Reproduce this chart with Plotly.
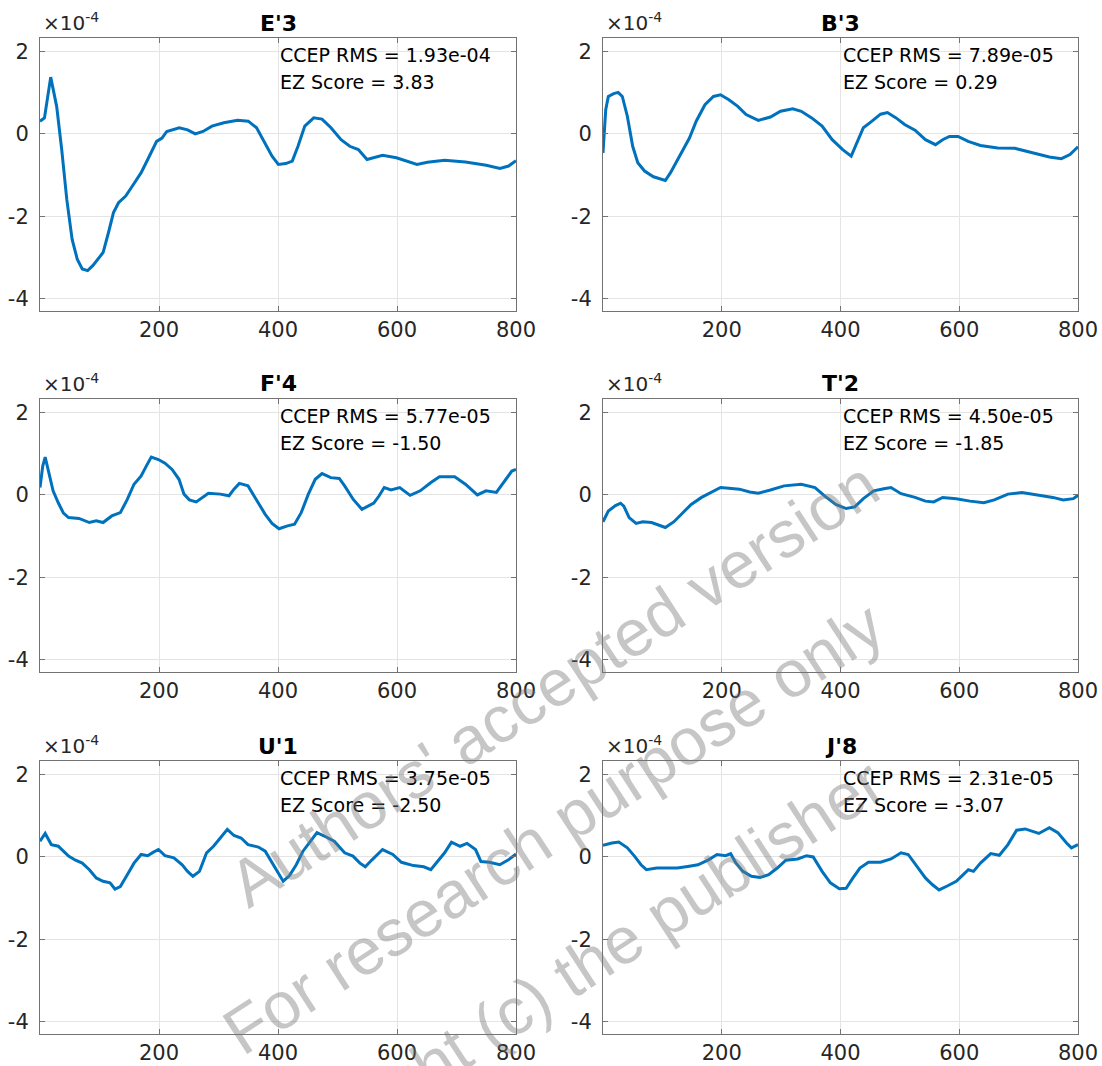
import plotly.graph_objects as go

# ---- data (time in ms, amplitude in units of 1e-4) ----
t_e3 = [0, 7.5, 18, 28, 36.5, 45, 54, 62.6, 71, 80, 88.7, 97, 106, 115, 123.5, 132, 144, 155, 170, 181,
        196, 205, 213, 234, 248, 261, 274, 289, 309, 332, 350, 364, 378.5, 390, 400.6, 413, 424, 433.6,
        445, 460, 474, 489, 506, 520.6, 535, 549.6, 575.7, 599, 633.6, 651, 680, 715, 750, 773, 787.5, 800]
v_e3 = [0.31, 0.39, 1.38, 0.67, -0.38, -1.59, -2.56, -3.04, -3.28, -3.32, -3.2, -3.04, -2.88, -2.40, -1.91,
        -1.67, -1.51, -1.27, -0.94, -0.62, -0.18, -0.10, 0.06, 0.15, 0.10, 0.0, 0.06, 0.19, 0.27, 0.33, 0.31,
        0.15, -0.22, -0.54, -0.74, -0.72, -0.66, -0.30, 0.19, 0.39, 0.36, 0.15, -0.14, -0.30, -0.38, -0.62,
        -0.52, -0.58, -0.74, -0.69, -0.64, -0.68, -0.76, -0.84, -0.78, -0.65]

t_b3 = [0, 4.6, 9, 18, 25.5, 32.5, 41, 50, 58.6, 70, 85, 96, 105, 113.7, 128, 145.6, 157, 171.7, 186, 198,
        212, 227, 241, 261.6, 282, 299, 319.6, 334, 351.5, 369, 386, 403.7, 418, 427, 438.5, 453, 467.5,
        479, 493.6, 508, 525.5, 543, 560, 572, 583.5, 598, 615, 635.7, 664.7, 693.7, 722.7, 751.7, 772,
        786.5, 800]
v_b3 = [-0.46, 0.59, 0.91, 0.98, 1.01, 0.91, 0.43, -0.30, -0.70, -0.90, -1.04, -1.09, -1.13, -0.94, -0.58,
        -0.10, 0.31, 0.71, 0.91, 0.95, 0.83, 0.67, 0.47, 0.33, 0.41, 0.55, 0.61, 0.55, 0.39, 0.19, -0.14,
        -0.38, -0.54, -0.22, 0.15, 0.31, 0.48, 0.52, 0.39, 0.23, 0.09, -0.14, -0.26, -0.14, -0.06, -0.06,
        -0.18, -0.28, -0.34, -0.35, -0.46, -0.56, -0.60, -0.50, -0.31]

t_f4 = [0, 4.6, 8.7, 14.5, 22, 30.7, 39.4, 48, 65.5, 83, 94.5, 106, 120.6, 135, 146.7, 158, 170, 178.6, 187,
        199, 210, 222, 233.6, 242, 251, 262.6, 274, 283, 303, 317.7, 326, 335, 349.6, 364, 378.5, 390,
        401.7, 416, 427.8, 439, 451, 462.6, 474, 488.7, 503, 512, 526.5, 541, 561, 570, 578.5, 590, 604.6,
        622, 639, 657, 671.3, 697, 715, 735, 749.6, 767, 781, 793, 800]
v_f4 = [0.18, 0.70, 0.92, 0.54, 0.10, -0.19, -0.44, -0.55, -0.57, -0.67, -0.63, -0.67, -0.51, -0.43, -0.11,
        0.26, 0.46, 0.70, 0.92, 0.86, 0.77, 0.62, 0.38, 0.02, -0.12, -0.17, -0.06, 0.04, 0.02, -0.02, 0.14,
        0.28, 0.22, -0.11, -0.47, -0.69, -0.82, -0.75, -0.71, -0.43, 0.02, 0.38, 0.52, 0.42, 0.40, 0.22,
        -0.11, -0.35, -0.20, -0.02, 0.18, 0.12, 0.18, -0.01, 0.10, 0.30, 0.44, 0.44, 0.26, 0.0, 0.10, 0.06,
        0.34, 0.58, 0.62]

t_t2 = [0, 9, 21, 29.6, 35, 44, 55.7, 67, 81.8, 96, 105, 119.5, 134, 148.5, 166, 183, 198, 212, 229.7, 247,
        261.6, 282, 305, 334, 357, 374.7, 392, 409.5, 424, 438.5, 456, 473, 485, 502, 525.5, 543, 557, 572,
        595, 618, 641.5, 659, 682, 705.6, 723, 740, 757.6, 775, 792, 800]
v_t2 = [-0.65, -0.39, -0.26, -0.20, -0.27, -0.55, -0.69, -0.65, -0.67, -0.75, -0.79, -0.65, -0.44, -0.23,
        -0.06, 0.06, 0.18, 0.16, 0.14, 0.07, 0.04, 0.12, 0.22, 0.26, 0.18, -0.04, -0.23, -0.33, -0.29, -0.09,
        0.10, 0.15, 0.18, 0.03, -0.06, -0.15, -0.17, -0.06, -0.09, -0.15, -0.19, -0.12, 0.02, 0.06, 0.02,
        -0.02, -0.06, -0.12, -0.09, -0.01]

t_u1 = [0, 8.7, 19, 30.7, 39.4, 48, 59.7, 71, 83, 94.5, 106, 117.7, 126, 135, 146.7, 158, 170, 181, 190,
        199, 210, 225, 239, 248, 257, 268, 280, 291.6, 303, 314.8, 326, 338, 349.6, 367, 378.5, 390, 401.7,
        408.7, 419, 430.7, 442, 456.8, 465.5, 480, 494.5, 512, 526, 537.7, 546.7, 558, 575.7, 593, 607.5,
        627.8, 645, 656.8, 668.4, 680, 691.6, 706, 717.7, 732, 741, 755.4, 772.8, 787.3, 800]
v_u1 = [0.38, 0.57, 0.30, 0.26, 0.14, 0.02, -0.08, -0.15, -0.31, -0.51, -0.59, -0.63, -0.78, -0.72, -0.43,
        -0.15, 0.06, 0.03, 0.11, 0.18, 0.03, -0.02, -0.19, -0.35, -0.47, -0.35, 0.10, 0.26, 0.46, 0.67,
        0.52, 0.46, 0.30, 0.24, 0.14, -0.15, -0.43, -0.59, -0.46, -0.19, 0.14, 0.42, 0.59, 0.49, 0.38,
        0.10, 0.02, -0.15, -0.24, -0.07, 0.18, 0.06, -0.13, -0.21, -0.24, -0.31, -0.11, 0.10, 0.36, 0.26,
        0.33, 0.18, -0.11, -0.13, -0.19, -0.07, 0.07]

t_j8 = [0, 15, 26.7, 41, 53, 64, 73, 90.5, 108, 125, 142.7, 160, 177.6, 192, 206.5, 215, 224, 235.5, 250,
        264.5, 279, 293.5, 308, 328, 342.8, 354, 369, 383, 398, 409.5, 421, 432.7, 447, 467.5, 485, 502,
        514, 528.4, 543, 554.5, 566, 580.6, 595, 606.7, 615.4, 624, 635.7, 653, 667.6, 682, 696.6, 711,
        722.7, 734, 751.7, 766, 780.7, 789, 800]
v_j8 = [0.28, 0.34, 0.36, 0.22, 0.02, -0.19, -0.31, -0.27, -0.27, -0.27, -0.23, -0.19, -0.07, 0.06, 0.03,
        0.08, -0.15, -0.35, -0.47, -0.50, -0.43, -0.27, -0.08, -0.05, 0.03, 0.0, -0.35, -0.63, -0.77, -0.76,
        -0.51, -0.27, -0.13, -0.13, -0.05, 0.10, 0.06, -0.23, -0.51, -0.67, -0.80, -0.70, -0.59, -0.43,
        -0.31, -0.35, -0.15, 0.08, 0.04, 0.30, 0.65, 0.68, 0.63, 0.57, 0.71, 0.59, 0.34, 0.22, 0.30]

titles = ["E'3", "B'3", "F'4", "T'2", "U'1", "J'8"]
rms_text = ["1.93e-04", "7.89e-05", "5.77e-05", "4.50e-05", "3.75e-05", "2.31e-05"]
ez_text = ["3.83", "0.29", "-1.50", "-1.85", "-2.50", "-3.07"]
series_t = [t_e3, t_b3, t_f4, t_t2, t_u1, t_j8]
series_v = [v_e3, v_b3, v_f4, v_t2, v_u1, v_j8]

x_ticks = [200, 400, 600, 800]
y_ticks = [-4, -2, 0, 2]

# ---- layout geometry (pixels) ----
W, H = 1102, 1066
WX = 1082  # horizontal reference width used for paper fractions (renderer compresses ~1.8%)
col_px = [(40, 516), (603, 1078)]
row_px = [(38, 311), (399, 672), (761, 1034)]

FONT = "DejaVu Sans"
LINE_COLOR = "#0072BD"
AX_COLOR = "#737373"
TXT_COLOR = "#262626"
GRID = "#e4e4e4"

fig = go.Figure()
annotations = []
layout_axes = {}

for i in range(6):
    r, c = divmod(i, 2)
    x0, x1 = col_px[c]
    y0, y1 = row_px[r]
    n = i + 1
    xa = "x" if n == 1 else f"x{n}"
    ya = "y" if n == 1 else f"y{n}"
    xkey = "xaxis" if n == 1 else f"xaxis{n}"
    ykey = "yaxis" if n == 1 else f"yaxis{n}"

    fig.add_trace(go.Scatter(x=series_t[i], y=series_v[i], mode="lines",
                             line=dict(color=LINE_COLOR, width=3),
                             xaxis=xa, yaxis=ya, showlegend=False, hoverinfo="skip"))

    layout_axes[xkey] = dict(domain=[x0 / WX, x1 / WX], anchor=ya, range=[0, 800],
                             tickvals=x_ticks, ticktext=[str(v) for v in x_ticks],
                             showgrid=True, gridcolor=GRID, gridwidth=1, zeroline=False,
                             showline=True, linecolor=AX_COLOR, linewidth=1, mirror="ticks",
                             ticks="inside", ticklen=5, tickcolor=AX_COLOR,
                             tickfont=dict(family=FONT, size=21, color=TXT_COLOR))
    layout_axes[ykey] = dict(domain=[1 - y1 / H, 1 - y0 / H], anchor=xa, range=[-4.30, 2.33],
                             tickvals=y_ticks, ticktext=[str(v) for v in y_ticks],
                             showgrid=True, gridcolor=GRID, gridwidth=1, zeroline=False,
                             showline=True, linecolor=AX_COLOR, linewidth=1, mirror="ticks",
                             ticks="inside", ticklen=5, tickcolor=AX_COLOR, ticklabelstandoff=6,
                             tickfont=dict(family=FONT, size=21, color=TXT_COLOR))

    # title
    annotations.append(dict(text=f"<b>{titles[i]}</b>", x=(x0 + x1) / 2 / WX, y=1 - (y0 - 15) / H,
                            xref="paper", yref="paper", xanchor="center", yanchor="middle",
                            showarrow=False, font=dict(family=FONT, size=22, color="#000000")))
    # exponent label
    annotations.append(dict(text="×10<sup>-4</sup>", x=(x0 + 1) / WX, y=1 - (y0 - 1) / H,
                            xref="paper", yref="paper", xanchor="left", yanchor="bottom",
                            showarrow=False, font=dict(family=FONT, size=20, color=TXT_COLOR)))
    # stats text
    annotations.append(dict(text=f"CCEP RMS = {rms_text[i]}", x=400, y=1.92, xref=xa, yref=ya,
                            xanchor="left", yanchor="middle", showarrow=False,
                            font=dict(family=FONT, size=19, color="#000000")))
    annotations.append(dict(text=f"EZ Score = {ez_text[i]}", x=400, y=1.26, xref=xa, yref=ya,
                            xanchor="left", yanchor="middle", showarrow=False,
                            font=dict(family=FONT, size=19, color="#000000")))

# watermark
wm_lines = ["Authors' accepted version", "For research purpose only", "Copyright (c) the publisher"]
wm_centers = [(553, 684), (553, 828), (552, 986)]
for txt, (cx, cy) in zip(wm_lines, wm_centers):
    annotations.append(dict(text=txt, x=cx / WX, y=1 - cy / H, xref="paper", yref="paper",
                            xanchor="center", yanchor="middle", showarrow=False, textangle=-33,
                            font=dict(family="Liberation Sans", size=66, color="rgba(120,120,120,0.42)")))

fig.update_layout(width=W, height=H, margin=dict(l=0, r=0, t=0, b=0),
                  paper_bgcolor="white", plot_bgcolor="white",
                  annotations=annotations, **layout_axes)

fig.write_html("out.html", config={"displayModeBar": False},
               post_script=("document.body.style.margin='0px';"
                            "document.body.style.overflow='hidden';"
                            "document.documentElement.style.overflow='hidden';"))
